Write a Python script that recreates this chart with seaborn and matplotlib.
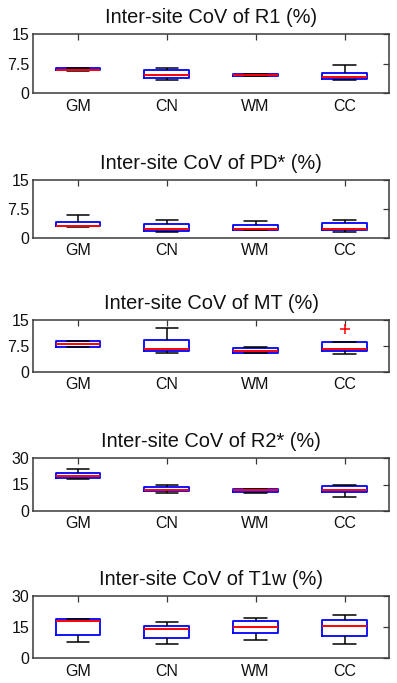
import matplotlib
matplotlib.use("Agg")
import matplotlib.pyplot as plt
import numpy as np
import pandas as pd
import seaborn as sns

# regions on the x axis
regions = ["GM", "CN", "WM", "CC"]

# box summaries per map: lower whisker, q1, median, q3, upper whisker
r1_lo = [5.75, 3.4, 4.4, 3.4]
r1_q1 = [5.8, 3.9, 4.5, 3.6]
r1_med = [6.05, 4.55, 4.65, 4.25]
r1_q3 = [6.45, 5.8, 4.9, 5.1]
r1_hi = [6.5, 6.4, 5.0, 7.25]

pd_lo = [2.7, 1.55, 2.0, 1.55]
pd_q1 = [2.95, 1.85, 2.1, 2.1]
pd_med = [3.05, 2.35, 2.35, 2.3]
pd_q3 = [4.2, 3.5, 3.3, 3.75]
pd_hi = [5.85, 4.6, 4.45, 4.55]

mt_lo = [7.05, 5.5, 5.35, 5.25]
mt_q1 = [7.25, 5.95, 5.55, 5.9]
mt_med = [8.0, 6.55, 6.1, 6.5]
mt_q3 = [8.9, 9.2, 6.9, 8.7]
mt_hi = [8.9, 12.6, 7.05, 8.7]
mt_outlier_region = ["CC"]
mt_outlier_value = [12.5]

r2_lo = [18.4, 9.9, 10.1, 8.0]
r2_q1 = [19.0, 11.0, 10.6, 10.6]
r2_med = [19.7, 12.1, 11.7, 12.1]
r2_q3 = [21.8, 13.6, 12.5, 14.3]
r2_hi = [23.6, 14.5, 12.7, 14.9]

t1_lo = [7.7, 7.0, 8.8, 7.0]
t1_q1 = [11.2, 9.9, 12.1, 10.7]
t1_med = [17.9, 14.0, 15.2, 15.5]
t1_q3 = [19.0, 15.5, 17.9, 18.3]
t1_hi = [19.0, 17.5, 19.5, 20.7]

titles = ["Inter-site CoV of R1 (%)", "Inter-site CoV of PD* (%)",
          "Inter-site CoV of MT (%)", "Inter-site CoV of R2* (%)",
          "Inter-site CoV of T1w (%)"]
yticks_small = [0, 7.5, 15]
yticks_large = [0, 15, 30]
ytick_labels_small = ["0", "7.5", "15"]
ytick_labels_large = ["0", "15", "30"]

panels = [
    (r1_lo, r1_q1, r1_med, r1_q3, r1_hi, yticks_small, ytick_labels_small, [], []),
    (pd_lo, pd_q1, pd_med, pd_q3, pd_hi, yticks_small, ytick_labels_small, [], []),
    (mt_lo, mt_q1, mt_med, mt_q3, mt_hi, yticks_small, ytick_labels_small,
     mt_outlier_region, mt_outlier_value),
    (r2_lo, r2_q1, r2_med, r2_q3, r2_hi, yticks_large, ytick_labels_large, [], []),
    (t1_lo, t1_q1, t1_med, t1_q3, t1_hi, yticks_large, ytick_labels_large, [], []),
]

# axes placement in pixels (top, bottom) measured on the 397x683 canvas
W, H = 397, 683
ax_left, ax_right = 33.3, 389.0
ax_rows = [(34.3, 93.3), (180.0, 237.7), (320.0, 371.7), (458.3, 510.7), (595.7, 658.3)]

sns.set_theme(style="white")
plt.rcParams["font.family"] = ["Liberation Sans", "DejaVu Sans"]
plt.rcParams["axes.edgecolor"] = "#3a3a3a"
plt.rcParams["axes.linewidth"] = 1.1

fig = plt.figure(figsize=(W / 100, H / 100), dpi=100)
fig.patch.set_facecolor("white")

for (lo, q1, med, q3, hi, yt, ytl, out_r, out_v), title, (top, bot) in zip(panels, titles, ax_rows):
    ax = fig.add_axes([ax_left / W, 1 - bot / H, (ax_right - ax_left) / W, (bot - top) / H])
    # five points per region give exact quartiles and whisker ends
    rows = []
    for i, reg in enumerate(regions):
        for v in (lo[i], q1[i], med[i], q3[i], hi[i]):
            rows.append({"region": reg, "value": v})
    df = pd.DataFrame(rows)
    sns.boxplot(
        data=df, x="region", y="value", order=regions, ax=ax,
        width=0.5, fill=False, whis=np.inf, showfliers=False,
        boxprops={"color": "#0000ff", "linewidth": 1.3},
        medianprops={"color": "#ff0000", "linewidth": 1.4},
        whiskerprops={"color": "black", "linewidth": 1.1},
        capprops={"color": "black", "linewidth": 1.1},
    )
    for reg, v in zip(out_r, out_v):
        ax.plot(regions.index(reg), v, marker="+", color="#ff0000",
                markersize=7, markeredgewidth=1.1, linestyle="none")
    ax.set_xlim(-0.5, 3.5)
    ax.set_ylim(yt[0], yt[-1])
    ax.set_yticks(yt)
    ax.set_yticklabels(ytl)
    ax.set_xlabel("")
    ax.set_ylabel("")
    ax.set_title(title, fontsize=14.4, pad=8, color="#111111")
    ax.tick_params(direction="in", top=True, right=True, length=4, width=0.9,
                   color="#3a3a3a", labelsize=11.5, labelcolor="#111111")
    ax.tick_params(axis="x", pad=4)
    ax.tick_params(axis="y", pad=3)
    for s in ax.spines.values():
        s.set_visible(True)

fig.savefig("out.png", dpi=100, facecolor="white")
